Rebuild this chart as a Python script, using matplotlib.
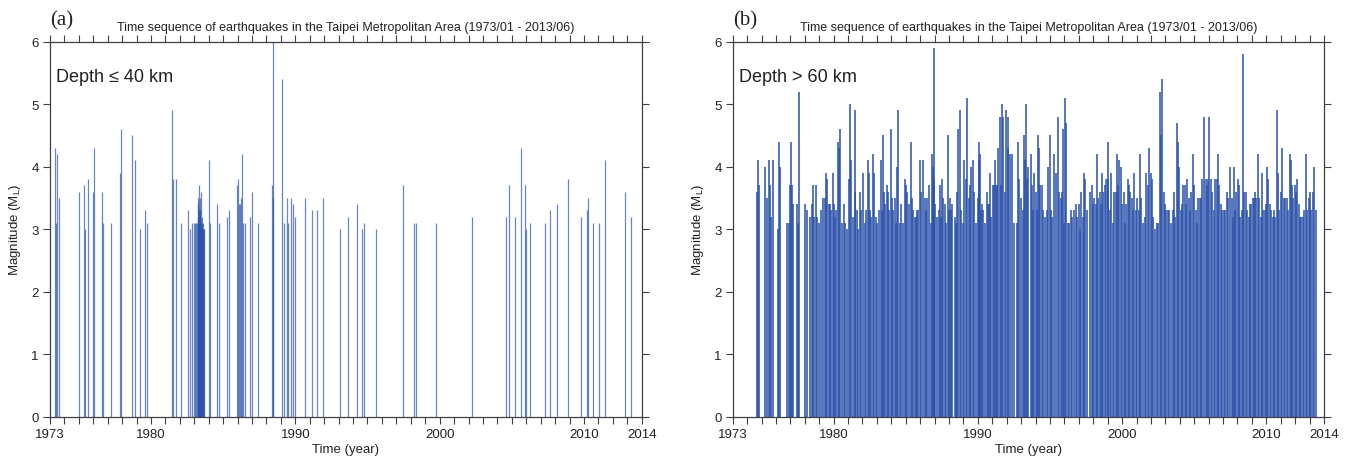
import matplotlib
matplotlib.use("Agg")
import matplotlib.pyplot as plt

plt.rcParams['font.family'] = ['Liberation Sans', 'DejaVu Sans']

# Panel (a): shallow events, depth <= 40 km
a_years = [1973.32, 1973.39, 1973.51, 1973.62, 1975.03, 1975.38, 1975.43, 1975.61, 1975.96, 1976.05,
           1976.63, 1976.67, 1977.23, 1977.85, 1977.90, 1978.66, 1978.89, 1979.24, 1979.58, 1979.72,
           1981.43, 1981.55, 1981.75, 1982.10, 1982.59, 1982.70, 1982.86, 1982.96, 1983.05, 1983.14,
           1983.19, 1983.23, 1983.26, 1983.28, 1983.31, 1983.33, 1983.35, 1983.37, 1983.40, 1983.42,
           1983.44, 1983.46, 1983.49, 1983.51, 1983.53, 1983.56, 1983.59, 1983.63, 1983.66, 1983.70,
           1984.02, 1984.11, 1984.55, 1984.69, 1985.24, 1985.43, 1985.98, 1986.03, 1986.07, 1986.14,
           1986.24, 1986.28, 1986.37, 1986.49, 1986.88, 1986.98, 1987.44, 1988.41, 1988.43, 1988.48,
           1989.05, 1989.24, 1989.42, 1989.47, 1989.70, 1989.86, 1989.98, 1990.65, 1991.18, 1991.50,
           1991.94, 1993.10, 1993.67, 1994.28, 1994.62, 1994.76, 1995.57, 1997.46, 1998.20, 1998.34,
           1999.73, 2002.22, 2004.60, 2004.79, 2005.20, 2005.66, 2005.92, 2006.01, 2006.29, 2007.28,
           2007.63, 2008.11, 2008.87, 2009.78, 2010.21, 2010.28, 2010.63, 2011.07, 2011.46, 2012.85,
           2013.26]
a_mags = [4.3, 3.1, 4.2, 3.5, 3.6, 3.7, 3.0, 3.8, 3.6, 4.3,
          3.6, 3.1, 3.1, 3.9, 4.6, 4.5, 4.1, 3.0, 3.3, 3.1,
          4.9, 3.8, 3.8, 3.1, 3.3, 3.0, 3.1, 3.1, 3.1, 3.1,
          3.1, 3.4, 3.2, 3.5, 3.3, 3.7, 3.1, 3.5, 3.2, 3.3,
          3.0, 3.6, 3.1, 3.2, 3.0, 3.1, 3.1, 3.0, 3.0, 3.0,
          4.1, 3.1, 3.4, 3.1, 3.2, 3.3, 3.7, 3.8, 3.4, 3.4,
          3.5, 4.2, 3.1, 3.1, 3.2, 3.6, 3.1, 3.7, 3.5, 6.0,
          5.4, 3.1, 3.5, 3.1, 3.5, 3.4, 3.2, 3.5, 3.3, 3.3,
          3.5, 3.0, 3.2, 3.4, 3.0, 3.1, 3.0, 3.7, 3.1, 3.1,
          3.1, 3.2, 3.2, 3.7, 3.2, 4.3, 3.7, 3.0, 3.1, 3.1,
          3.3, 3.4, 3.8, 3.2, 3.3, 3.5, 3.1, 3.1, 4.1, 3.6,
          3.2]

# Panel (b): deep events, depth > 60 km
b_years = [
    1974.66, 1974.78, 1974.85, 1975.26, 1975.40, 1975.54, 1975.61, 1975.68, 1975.77, 1976.16,
    1976.21, 1976.28, 1976.74, 1976.88, 1976.95, 1977.06, 1977.13, 1977.20, 1977.43, 1977.50,
    1977.62, 1977.99, 1978.13, 1978.36, 1978.50, 1978.59, 1978.66, 1978.77, 1978.86, 1979.00,
    1979.12, 1979.28, 1979.40, 1979.47, 1979.56, 1979.65,
    1979.74, 1979.81, 1979.93, 1980.02, 1980.11, 1980.18, 1980.30, 1980.37, 1980.46, 1980.57,
    1980.69, 1980.81, 1980.94, 1981.06, 1981.15, 1981.22, 1981.34, 1981.45, 1981.50, 1981.59,
    1981.71, 1981.84, 1981.89, 1982.01, 1982.15, 1982.24, 1982.35, 1982.42, 1982.51, 1982.61,
    1982.72, 1982.79, 1982.91, 1983.02, 1983.14, 1983.25, 1983.32, 1983.39, 1983.46, 1983.58,
    1983.67, 1983.74, 1983.83, 1983.95, 1984.02, 1984.13, 1984.22, 1984.32, 1984.39, 1984.48,
    1984.59, 1984.69, 1984.80, 1984.92, 1985.01, 1985.10, 1985.24, 1985.36, 1985.43, 1985.52,
    1985.61, 1985.70, 1985.79, 1985.86, 1985.98, 1986.07, 1986.21, 1986.30, 1986.40, 1986.49,
    1986.58,
    1986.74, 1986.81, 1986.88, 1986.93, 1986.97, 1987.04, 1987.14, 1987.27, 1987.34, 1987.44,
    1987.48, 1987.60, 1987.69, 1987.78, 1987.92, 1987.99, 1988.08, 1988.15, 1988.24, 1988.38,
    1988.50, 1988.57, 1988.64, 1988.75, 1988.84, 1988.94, 1989.03, 1989.17, 1989.28, 1989.38,
    1989.47, 1989.54, 1989.63, 1989.75, 1989.86, 1989.98, 1990.05, 1990.09, 1990.14, 1990.21,
    1990.30, 1990.37, 1990.48, 1990.60, 1990.69, 1990.76, 1990.83, 1990.92, 1991.02, 1991.11,
    1991.18, 1991.25, 1991.34, 1991.41, 1991.50, 1991.59, 1991.66, 1991.73, 1991.85, 1991.96,
    1992.06, 1992.12, 1992.24, 1992.36, 1992.49, 1992.70, 1992.77, 1992.86, 1992.96, 1993.10,
    1993.19, 1993.26, 1993.33, 1993.42, 1993.51,
    1993.65, 1993.72, 1993.81, 1993.90, 1994.00, 1994.09, 1994.16, 1994.25, 1994.34, 1994.46,
    1994.53, 1994.64, 1994.78, 1994.87, 1994.97, 1995.06, 1995.17, 1995.31, 1995.40, 1995.54,
    1995.64, 1995.75, 1995.84, 1995.89, 1995.96, 1996.05, 1996.12, 1996.24, 1996.33, 1996.47,
    1996.56, 1996.68, 1996.77, 1996.86, 1996.98, 1997.07, 1997.18, 1997.30, 1997.39, 1997.46,
    1997.55, 1997.76, 1997.88, 1997.97, 1998.06, 1998.18, 1998.27, 1998.36, 1998.45, 1998.55,
    1998.62, 1998.71, 1998.80, 1998.89, 1998.99, 1999.05, 1999.15, 1999.26, 1999.38, 1999.47,
    1999.56, 1999.66, 1999.72, 1999.82, 1999.91, 2000.02, 2000.12, 2000.21, 2000.30, 2000.42,
    2000.49,
    2000.58, 2000.67, 2000.76, 2000.86, 2000.95, 2001.06, 2001.16, 2001.25, 2001.34, 2001.46,
    2001.57, 2001.66, 2001.78, 2001.87, 2001.97, 2002.08, 2002.17, 2002.29, 2002.43, 2002.52,
    2002.61, 2002.70, 2002.80, 2002.89, 2002.98, 2003.07, 2003.17, 2003.28, 2003.42, 2003.51,
    2003.60, 2003.70, 2003.79, 2003.88, 2003.95, 2004.07, 2004.18, 2004.25, 2004.34, 2004.41,
    2004.51, 2004.62, 2004.71, 2004.81, 2004.92, 2004.99, 2005.11, 2005.20, 2005.29, 2005.38,
    2005.48, 2005.57, 2005.71, 2005.80, 2005.92, 2005.98, 2006.05, 2006.15, 2006.24, 2006.35,
    2006.47, 2006.56, 2006.65, 2006.75, 2006.84, 2006.95, 2007.07, 2007.16, 2007.26, 2007.37,
    2007.51, 2007.60, 2007.67, 2007.76, 2007.86, 2007.93, 2008.02, 2008.09, 2008.20, 2008.29,
    2008.39, 2008.48, 2008.57, 2008.66, 2008.78, 2008.87, 2008.96, 2009.06, 2009.15, 2009.22,
    2009.31, 2009.43, 2009.52, 2009.61, 2009.70, 2009.80, 2009.89, 2009.96, 2010.05, 2010.14,
    2010.24, 2010.35, 2010.44, 2010.54, 2010.63, 2010.72, 2010.81, 2010.91, 2011.02, 2011.11,
    2011.21, 2011.30, 2011.41, 2011.51, 2011.62, 2011.71, 2011.78, 2011.88, 2011.97, 2012.06,
    2012.15, 2012.24, 2012.34, 2012.43, 2012.52, 2012.64, 2012.75, 2012.85, 2012.94, 2013.03,
    2013.12, 2013.22, 2013.33, 2013.42,
]
b_mags = [
    3.6, 4.1, 3.7, 4.0, 3.5, 4.1, 3.7, 3.2, 4.1, 3.0,
    4.4, 4.0, 3.1, 3.1, 3.7, 4.4, 3.7, 3.4, 3.4, 3.1,
    5.2, 3.4, 3.3, 3.2, 3.4, 3.7, 3.2, 3.7, 3.2, 3.1,
    3.3, 3.5, 3.5, 3.9, 3.8, 3.4,
    3.4, 3.3, 3.9, 3.4, 3.2, 3.3, 4.4, 4.3, 4.6, 3.1,
    3.4, 3.1, 3.0, 3.8, 5.0, 4.1, 3.2, 4.9, 3.6, 3.3,
    3.0, 3.6, 3.3, 3.9, 3.1, 3.3, 4.1, 3.9, 3.3, 3.2,
    4.2, 3.9, 3.2, 3.1, 3.3, 4.1, 3.3, 4.5, 3.6, 3.4,
    3.7, 3.6, 3.3, 4.6, 3.5, 3.3, 3.5, 3.1, 4.0, 4.9,
    3.1, 3.4, 3.1, 3.8, 3.7, 3.6, 3.4, 4.4, 3.5, 3.3,
    3.2, 3.2, 3.3, 3.3, 4.1, 3.6, 4.1, 3.5, 3.3, 3.5,
    3.7,
    3.1, 4.2, 4.0, 5.9, 3.8, 3.4, 3.2, 3.3, 3.7, 3.2,
    3.8, 3.5, 3.4, 3.1, 4.5, 3.3, 3.5, 3.3, 3.4, 3.2,
    3.1, 3.6, 4.6, 4.9, 3.3, 3.1, 4.1, 3.8, 5.1, 3.5,
    3.7, 4.0, 4.1, 3.6, 3.1, 3.5, 4.1, 4.4, 4.2, 3.3,
    3.4, 3.3, 3.1, 3.6, 3.4, 3.4, 3.9, 3.2, 3.7, 3.7,
    4.1, 3.7, 3.7, 4.3, 4.8, 3.7, 5.0, 4.8, 3.6, 4.9,
    4.3, 4.8, 4.2, 4.2, 3.1, 3.1, 4.4, 3.8, 3.5, 3.3,
    4.5, 4.1, 5.0, 3.8, 4.0,
    4.2, 3.7, 3.3, 3.9, 3.6, 3.3, 4.5, 4.3, 3.7, 3.7,
    3.3, 3.2, 3.3, 4.0, 4.5, 3.3, 3.2, 4.2, 3.9, 4.8,
    3.6, 3.5, 3.6, 4.6, 3.1, 5.1, 4.7, 3.1, 3.1, 3.3,
    3.2, 3.3, 3.4, 3.2, 3.4, 3.0, 3.6, 3.2, 3.9, 3.8,
    3.3, 3.6, 3.7, 3.4, 3.5, 3.4, 4.2, 3.5, 3.6, 3.4,
    3.9, 3.6, 3.7, 3.8, 4.4, 3.8, 3.3, 3.9, 3.1, 3.6,
    3.6, 4.2, 3.7, 4.1, 4.0, 3.4, 3.6, 3.1, 3.4, 3.8,
    3.7,
    3.6, 3.5, 3.3, 3.9, 3.3, 3.5, 3.3, 4.2, 3.5, 3.1,
    3.2, 3.9, 3.7, 4.3, 3.9, 3.8, 3.2, 3.0, 3.1, 3.1,
    5.2, 4.5, 5.4, 3.6, 3.4, 3.3, 3.3, 3.3, 3.1, 3.3,
    3.6, 3.2, 4.7, 4.4, 4.0, 3.3, 3.4, 3.7, 3.7, 3.4,
    3.8, 3.5, 3.3, 3.6, 4.2, 3.7, 3.3, 3.1, 3.5, 3.5,
    3.5, 3.8, 4.8, 3.8, 3.7, 3.8, 4.8, 3.8, 3.6, 3.3,
    3.8, 3.8, 4.2, 3.7, 3.4, 3.3, 3.3, 3.3, 3.6, 3.5,
    4.0, 3.5, 3.2, 4.0, 3.3, 3.6, 3.8, 3.7, 3.2, 3.3,
    5.8, 3.6, 3.6, 3.3, 3.2, 3.4, 3.4, 3.5, 3.5, 3.6,
    3.5, 4.2, 3.5, 3.2, 3.9, 3.3, 3.3, 3.4, 4.0, 3.8,
    3.4, 3.3, 3.2, 3.3, 3.2, 4.9, 3.9, 3.3, 3.6, 4.3,
    3.5, 3.5, 3.5, 3.3, 4.2, 4.1, 3.7, 3.5, 3.7, 3.6,
    3.8, 3.4, 3.2, 3.2, 3.2, 3.3, 4.2, 3.3, 3.5, 3.6,
    3.3, 3.6, 4.0, 3.3,
]

panel_tags = ['(a)', '(b)']
depth_labels = ['Depth \u2264 40 km', 'Depth > 60 km']
title = 'Time sequence of earthquakes in the Taipei Metropolitan Area (1973/01 - 2013/06)'
year_ticks = list(range(1973, 2015))
labelled_years = [1973, 1980, 1990, 2000, 2010, 2014]

line_color = '#2a52aa'
axis_color = '#404040'

fig = plt.figure(figsize=(13.51, 4.60), dpi=100)
ax_a = fig.add_axes([50 / 1351, 42.3 / 460, 591.7 / 1351, 375 / 460])
ax_b = fig.add_axes([732.7 / 1351, 42.3 / 460, 591.3 / 1351, 375 / 460])

panels = [(ax_a, a_years, a_mags, panel_tags[0], depth_labels[0], 0.9, 0.7),
          (ax_b, b_years, b_mags, panel_tags[1], depth_labels[1], 1.3, 0.85)]

for ax, yrs, mags, tag, depth, lw, alpha in panels:
    ax.vlines(yrs, 0, mags, colors=line_color, linewidth=lw, alpha=alpha)

    ax.set_xlim(1973, 2014)
    ax.set_ylim(0, 6)
    ax.set_xticks(year_ticks)
    ax.set_xticklabels([str(y) if y in labelled_years else '' for y in year_ticks])
    ax.set_yticks(range(0, 7))

    for s in ax.spines.values():
        s.set_color(axis_color)
        s.set_linewidth(0.9)
    ax.tick_params(axis='both', direction='out', top=True, right=True, color=axis_color,
                   width=0.8, length=5, labelsize=9.5, pad=3, labelcolor='#222222')

    ax.set_xlabel('Time (year)', fontsize=9.5, labelpad=2, color='#222222')
    ax.set_ylabel('Magnitude (M$_\\mathregular{L}$)', fontsize=9.5, labelpad=6, color='#222222')

    ax.text(0.5, 1.031, title, transform=ax.transAxes, ha='center', va='baseline',
            fontsize=9, color='#222222')
    ax.text(0.0, 1.045, tag, transform=ax.transAxes, ha='left', va='baseline',
            fontsize=15, family='Liberation Serif', color='#222222')
    ax.text(0.01, 0.895, depth, transform=ax.transAxes, ha='left', va='baseline',
            fontsize=13, color='#222222')

fig.savefig('out.png', dpi=100)
